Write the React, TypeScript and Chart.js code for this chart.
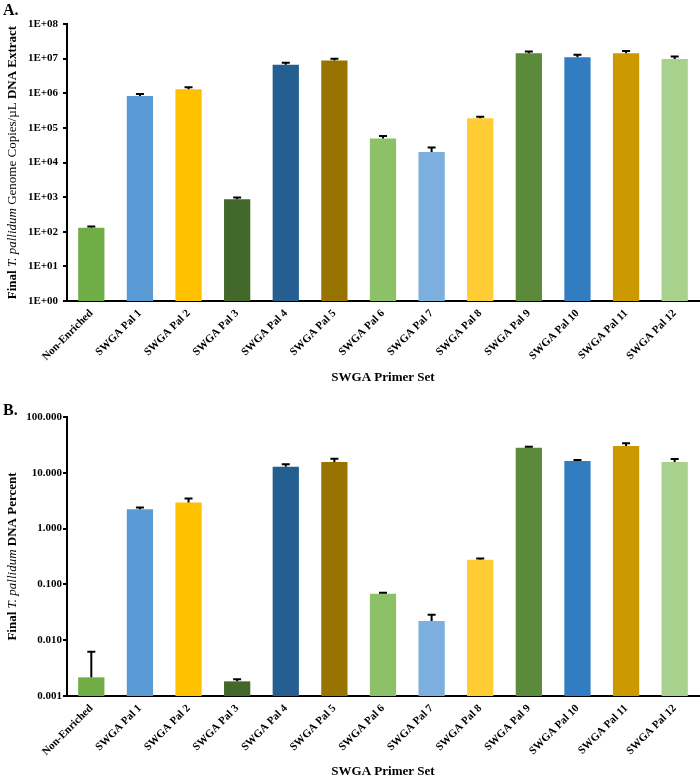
import React, { useEffect, useRef } from "react";
import { Chart, registerables } from "chart.js";
Chart.register(...registerables);

const categories = [
  "Non-Enriched", "SWGA Pal 1", "SWGA Pal 2", "SWGA Pal 3", "SWGA Pal 4", "SWGA Pal 5",
  "SWGA Pal 6", "SWGA Pal 7", "SWGA Pal 8", "SWGA Pal 9", "SWGA Pal 10", "SWGA Pal 11", "SWGA Pal 12",
];
const barColors = [
  "#70AD47", "#5B9BD5", "#FFC000", "#43682B", "#255E91", "#997300",
  "#8CC168", "#7CAFDD", "#FFCD33", "#5A8A3A", "#327DC2", "#CC9A00", "#A9D18E",
];

const copiesValues = [131, 8.3e5, 1.3e6, 870, 6.6e6, 8.8e6, 4.9e4, 2.0e4, 1.9e5, 1.44e7, 1.1e7, 1.44e7, 9.8e6];
const copiesErrHigh = [142, 9.5e5, 1.48e6, 980, 7.6e6, 9.9e6, 5.8e4, 2.7e4, 2.1e5, 1.6e7, 1.3e7, 1.65e7, 1.15e7];
const copiesTicks = [1, 10, 100, 1e3, 1e4, 1e5, 1e6, 1e7, 1e8];
const copiesTickLabels = ["1E+00", "1E+01", "1E+02", "1E+03", "1E+04", "1E+05", "1E+06", "1E+07", "1E+08"];

const percentValues = [0.00216, 2.22, 2.95, 0.00183, 12.9, 15.6, 0.068, 0.0221, 0.277, 28.2, 16.3, 30.2, 15.6];
const percentErrHigh = [0.0062, 2.38, 3.45, 0.002, 14.3, 17.9, 0.071, 0.0286, 0.29, 29.2, 16.9, 33.8, 17.7];
const percentTicks = [0.001, 0.01, 0.1, 1, 10, 100];
const percentTickLabels = ["0.001", "0.010", "0.100", "1.000", "10.000", "100.000"];

const xTitle = "SWGA Primer Set";
const yTitleA = [
  { t: "Final ", f: "bold" },
  { t: "T. pallidum", f: "italic" },
  { t: " Genome Copies/µL ", f: "normal" },
  { t: "DNA Extract", f: "bold" },
];
const yTitleB = [
  { t: "Final ", f: "bold" },
  { t: "T. pallidum", f: "italic" },
  { t: " DNA Percent", f: "bold" },
];

const FONT = "'Liberation Serif', 'Times New Roman', serif";

type PanelProps = {
  letter: string;
  letterY: number;
  values: number[];
  errHigh: number[];
  ticks: number[];
  tickLabels: string[];
  yTitle: { t: string; f: string }[];
  height: number;
  chartTop: number;
  chartBottom: number;
  tickPad: number;
  xTitleY: number;
};

function Panel(p: PanelProps) {
  const ref = useRef<HTMLCanvasElement>(null);
  useEffect(() => {
    const canvas = ref.current!;
    const overlay = {
      id: "overlay",
      afterDatasetsDraw(chart: any) {
        const ctx = chart.ctx;
        const meta = chart.getDatasetMeta(0);
        const ys = chart.scales.y;
        ctx.save();
        ctx.strokeStyle = "#000";
        ctx.lineWidth = 2;
        meta.data.forEach((bar: any, i: number) => {
          const yTop = ys.getPixelForValue(p.errHigh[i]);
          ctx.beginPath();
          ctx.moveTo(bar.x, bar.y);
          ctx.lineTo(bar.x, yTop);
          ctx.moveTo(bar.x - 4, yTop);
          ctx.lineTo(bar.x + 4, yTop);
          ctx.stroke();
        });
        ctx.restore();
      },
      afterDraw(chart: any) {
        const ctx = chart.ctx;
        const a = chart.chartArea;
        ctx.save();
        ctx.fillStyle = "#000";
        ctx.font = `bold 16px ${FONT}`;
        ctx.textAlign = "left";
        ctx.textBaseline = "alphabetic";
        ctx.fillText(p.letter, 3, p.letterY);
        ctx.font = `bold 13px ${FONT}`;
        ctx.textAlign = "center";
        ctx.textBaseline = "middle";
        ctx.fillText(xTitle, (a.left + a.right) / 2, p.xTitleY);
        // y title, mixed styles
        const fontFor = (f: string) => `${f === "normal" ? "" : f} 13px ${FONT}`;
        let total = 0;
        const widths = p.yTitle.map((s) => {
          ctx.font = fontFor(s.f);
          const w = ctx.measureText(s.t).width;
          total += w;
          return w;
        });
        ctx.translate(13, (a.top + a.bottom) / 2);
        ctx.rotate(-Math.PI / 2);
        ctx.textAlign = "left";
        let x = -total / 2;
        p.yTitle.forEach((s, i) => {
          ctx.font = fontFor(s.f);
          ctx.fillText(s.t, x, 0);
          x += widths[i];
        });
        ctx.restore();
      },
    };
    const chart = new Chart(canvas, {
      type: "bar",
      data: {
        labels: categories,
        datasets: [
          {
            data: p.values,
            backgroundColor: barColors,
            borderWidth: 0,
            categoryPercentage: 1,
            barPercentage: 0.54,
          },
        ],
      },
      options: {
        responsive: false,
        animation: false,
        devicePixelRatio: 1,
        layout: { padding: { top: p.chartTop, right: 1, left: 0, bottom: 0 } },
        plugins: { legend: { display: false }, tooltip: { enabled: false } },
        scales: {
          x: {
            type: "category",
            grid: { display: false, drawTicks: false },
            border: { display: true, color: "#000", width: 2 },
            ticks: {
              color: "#000",
              font: { family: FONT, weight: "bold", size: 11 },
              minRotation: 45,
              maxRotation: 45,
              autoSkip: false,
              padding: 6,
            },
            afterFit: (s: any) => {
              s.height = p.height - p.chartBottom;
            },
          },
          y: {
            type: "logarithmic",
            min: p.ticks[0],
            max: p.ticks[p.ticks.length - 1],
            grid: { drawOnChartArea: false, drawTicks: true, tickLength: 4, color: "#000", lineWidth: 2 },
            border: { display: true, color: "#000", width: 2 },
            ticks: {
              color: "#000",
              font: { family: FONT, weight: "bold", size: 11 },
              padding: p.tickPad,
              autoSkip: false,
              callback: (v: any) => {
                const i = p.ticks.findIndex((t) => Math.abs(t - v) / t < 1e-6);
                return i >= 0 ? p.tickLabels[i] : "";
              },
            },
            afterBuildTicks: (s: any) => {
              s.ticks = p.ticks.map((v) => ({ value: v }));
            },
            afterFit: (s: any) => {
              s.width = 67;
            },
          },
        },
      },
      plugins: [overlay],
    } as any);
    return () => chart.destroy();
  }, []);
  return (
    <div style={{ width: 700, height: p.height, position: "relative" }}>
      <canvas ref={ref} width={700} height={p.height} style={{ display: "block" }} />
    </div>
  );
}

export default function App() {
  return (
    <div style={{ position: "fixed", left: 0, top: 0, width: 700, height: 777, background: "#fff" }}>
      <Panel
        letter="A."
        letterY={15}
        values={copiesValues}
        errHigh={copiesErrHigh}
        ticks={copiesTicks}
        tickLabels={copiesTickLabels}
        yTitle={yTitleA}
        height={390}
        chartTop={24}
        chartBottom={301}
        tickPad={5}
        xTitleY={378}
      />
      <Panel
        letter="B."
        letterY={25}
        values={percentValues}
        errHigh={percentErrHigh}
        ticks={percentTicks}
        tickLabels={percentTickLabels}
        yTitle={yTitleB}
        height={387}
        chartTop={27}
        chartBottom={306}
        tickPad={1}
        xTitleY={382}
      />
    </div>
  );
}
